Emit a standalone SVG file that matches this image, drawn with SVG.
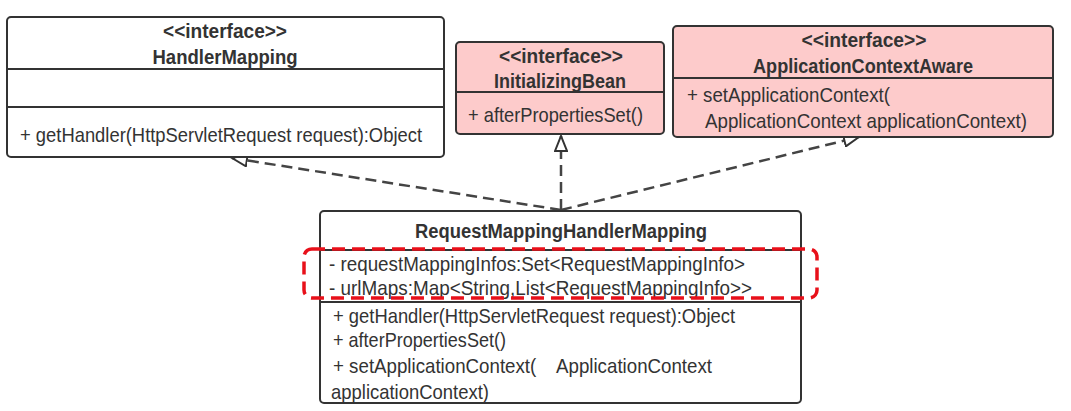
<svg xmlns="http://www.w3.org/2000/svg" width="1071" height="411" viewBox="0 0 1071 411">
<style>
.box{stroke:#333;stroke-width:2;}
.white{fill:#fff;}
.pink{fill:#fdcbcb;}
.sep{stroke:#333;stroke-width:2;}
text{font-family:"Liberation Sans","Noto Sans",sans-serif;font-size:21px;fill:#333;}
.b{font-weight:bold;text-anchor:middle;font-size:20px;}
.conn{fill:none;stroke:#444;stroke-width:2.5;stroke-dasharray:11 6;}
</style>
<defs>
<marker id="tri" markerUnits="userSpaceOnUse" markerWidth="18" markerHeight="14" refX="16" refY="7" orient="auto" viewBox="0 0 18 14">
<path d="M1,1 L16,7 L1,13 Z" fill="#fff" stroke="#333" stroke-width="2" stroke-dasharray="none"/>
</marker>
</defs>
<rect width="1071" height="411" fill="#fff"/>
<g id="connectors">
<line class="conn" x1="561" y1="210" x2="232" y2="158" marker-end="url(#tri)"/>
<line class="conn" x1="561" y1="210" x2="561" y2="136" marker-end="url(#tri)"/>
<line class="conn" x1="561" y1="210" x2="859" y2="137" marker-end="url(#tri)"/>
</g>
<g id="HandlerMapping">
<rect class="box white" x="7" y="17" width="437" height="140" rx="4"/>
<line class="sep" x1="7" y1="69" x2="444" y2="69"/>
<line class="sep" x1="7" y1="107" x2="444" y2="107"/>
<text class="b" x="225" y="38" textLength="124" lengthAdjust="spacingAndGlyphs">&lt;&lt;interface&gt;&gt;</text>
<text class="b" x="225" y="64" textLength="145" lengthAdjust="spacingAndGlyphs">HandlerMapping</text>
<text x="20" y="142" textLength="402" lengthAdjust="spacingAndGlyphs">+ getHandler(HttpServletRequest request):Object</text>
</g>
<g id="InitializingBean">
<rect class="box pink" x="456" y="42" width="208" height="92" rx="4"/>
<line class="sep" x1="456" y1="92" x2="664" y2="92"/>
<text class="b" x="561" y="63" textLength="124" lengthAdjust="spacingAndGlyphs">&lt;&lt;interface&gt;&gt;</text>
<text class="b" x="560" y="88" textLength="132" lengthAdjust="spacingAndGlyphs">InitializingBean</text>
<text x="468" y="122" textLength="175" lengthAdjust="spacingAndGlyphs">+ afterPropertiesSet()</text>
</g>
<g id="ApplicationContextAware">
<rect class="box pink" x="673" y="26" width="380" height="111" rx="4"/>
<line class="sep" x1="673" y1="78" x2="1053" y2="78"/>
<text class="b" x="864" y="47" textLength="125" lengthAdjust="spacingAndGlyphs">&lt;&lt;interface&gt;&gt;</text>
<text class="b" x="863" y="73" textLength="220" lengthAdjust="spacingAndGlyphs">ApplicationContextAware</text>
<text x="687" y="102" textLength="203" lengthAdjust="spacingAndGlyphs">+ setApplicationContext(</text>
<text x="705" y="128" textLength="322" lengthAdjust="spacingAndGlyphs">ApplicationContext applicationContext)</text>
</g>
<g id="RequestMappingHandlerMapping">
<rect class="box white" x="320" y="211" width="481" height="192" rx="4"/>
<line class="sep" x1="320" y1="250" x2="801" y2="250"/>
<line class="sep" x1="320" y1="302" x2="801" y2="302"/>
<text class="b" x="561" y="238" textLength="292" lengthAdjust="spacingAndGlyphs">RequestMappingHandlerMapping</text>
<text x="329" y="271" textLength="416" lengthAdjust="spacingAndGlyphs">- requestMappingInfos:Set&lt;RequestMappingInfo&gt;</text>
<text x="329" y="295" textLength="423" lengthAdjust="spacingAndGlyphs">- urlMaps:Map&lt;String,List&lt;RequestMappingInfo&gt;&gt;</text>
<text x="333" y="323" textLength="402" lengthAdjust="spacingAndGlyphs">+ getHandler(HttpServletRequest request):Object</text>
<text x="333" y="347" textLength="173" lengthAdjust="spacingAndGlyphs">+ afterPropertiesSet()</text>
<text x="333" y="373" textLength="379" lengthAdjust="spacingAndGlyphs" xml:space="preserve">+ setApplicationContext(    ApplicationContext</text>
<text x="331" y="399" textLength="158" lengthAdjust="spacingAndGlyphs">applicationContext)</text>
</g>
<rect id="highlight" x="304" y="249" width="513" height="49" rx="8" fill="none" stroke="#e8101a" stroke-width="3.5" stroke-dasharray="13 7"/>
</svg>
